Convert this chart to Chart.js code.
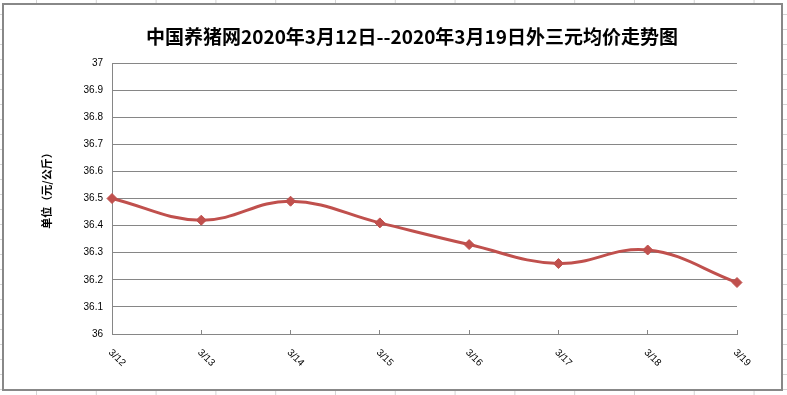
<!DOCTYPE html>
<html>
<head>
<meta charset="utf-8">
<script src="https://cdn.jsdelivr.net/npm/chart.js@4/dist/chart.umd.min.js"></script>
<style>
  html, body { margin: 0; padding: 0; }
  body {
    width: 787px; height: 395px; overflow: hidden; position: relative;
    background-color: #fff;
    /* spreadsheet grid behind the chart */
    background-image:
      linear-gradient(to right, #d4d4d4 1px, transparent 1px),
      linear-gradient(to bottom, #d4d4d4 1px, transparent 1px);
    background-size: 59.8px 15px;
    background-position: 36px 14px;
  }
  #box {
    position: absolute; left: 2px; top: 3px;
    width: 781px; height: 388px; box-sizing: border-box;
    border: 2px solid #888; background: #fff;
  }
  canvas { display: block; }
</style>
</head>
<body>
<div id="box"><canvas id="chart" width="777" height="384"></canvas></div>
<script>
// data
const dates = ["3/12", "3/13", "3/14", "3/15", "3/16", "3/17", "3/18", "3/19"];
const prices = [36.50, 36.42, 36.49, 36.41, 36.33, 36.26, 36.31, 36.19];
const yTicks = [36, 36.1, 36.2, 36.3, 36.4, 36.5, 36.6, 36.7, 36.8, 36.9, 37];

const chartTitle = "中国养猪网2020年3月12日--2020年3月19日外三元均价走势图";
const yTitle = "单位（元/公斤）";

const gridGray = "#868686";
const lineRed = "#C0504D";

// title, axis title and slanted date labels are drawn by hand
const textPlugin = {
  id: "texts",
  afterDraw(chart) {
    const ctx = chart.ctx;
    const x = chart.scales.x;
    const area = chart.chartArea;
    ctx.save();
    ctx.fillStyle = "#000";

    ctx.font = "bold 19px 'Noto Sans CJK SC', sans-serif";
    ctx.textAlign = "center";
    ctx.textBaseline = "middle";
    ctx.fillText(chartTitle, 408, 32);

    ctx.save();
    ctx.translate(43, 183);
    ctx.rotate(-Math.PI / 2);
    ctx.font = "bold 11px 'Noto Sans CJK SC', sans-serif";
    ctx.fillText(yTitle, 0, 0);
    ctx.restore();

    ctx.font = "10px 'Liberation Sans', Arial, sans-serif";
    ctx.textAlign = "left";
    dates.forEach((d, i) => {
      const px = x.getPixelForTick(i);
      ctx.save();
      ctx.translate(px - 2, area.bottom + 17);
      ctx.rotate(Math.PI / 4);
      ctx.fillText(d, 0, 0);
      ctx.restore();
    });
    ctx.restore();
  }
};

new Chart(document.getElementById("chart"), {
  type: "line",
  data: {
    labels: dates,
    datasets: [{
      data: prices,
      borderColor: lineRed,
      backgroundColor: lineRed,
      borderWidth: 3,
      tension: 0.4,
      pointStyle: "rectRot",
      pointRadius: 5,
      pointBorderWidth: 1,
      pointBackgroundColor: lineRed,
      pointBorderColor: lineRed,
      fill: false
    }]
  },
  options: {
    responsive: false,
    devicePixelRatio: 1,
    animation: false,
    layout: { padding: { top: 58, right: 44, left: 0, bottom: 0 } },
    plugins: {
      legend: { display: false },
      title: { display: false },
      tooltip: { enabled: false }
    },
    scales: {
      x: {
        offset: false,
        ticks: { display: false },
        grid: {
          drawOnChartArea: false,
          drawTicks: true,
          tickLength: -4,
          color: gridGray
        },
        border: { color: gridGray, width: 1 },
        afterFit(s) { s.height = 55; }
      },
      y: {
        min: 36,
        max: 37,
        afterBuildTicks(s) { s.ticks = yTicks.map(v => ({ value: v })); },
        ticks: {
          color: "#000",
          padding: 9,
          font: { family: "'Liberation Sans', Arial, sans-serif", size: 10 },
          callback: v => String(+v.toFixed(1))
        },
        grid: { color: gridGray, drawTicks: false },
        border: { color: gridGray, width: 1 },
        afterFit(s) { s.width = 108; }
      }
    }
  },
  plugins: [textPlugin]
});
</script>
</body>
</html>
